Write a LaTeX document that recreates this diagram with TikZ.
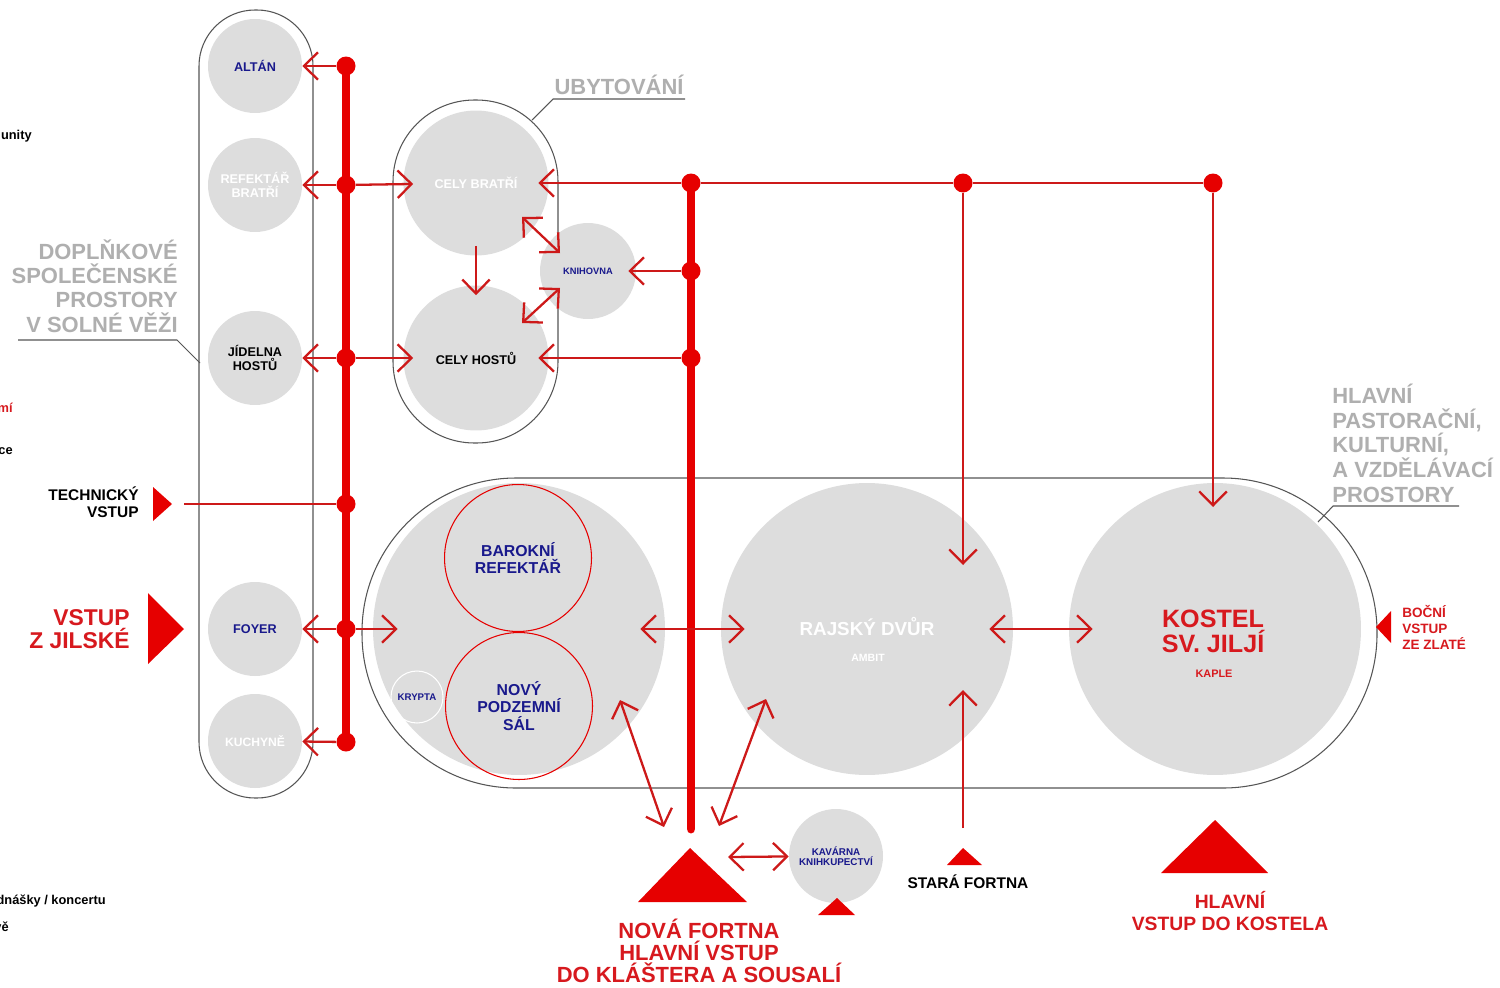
\documentclass[tikz,border=0pt]{standalone}
\usepackage{fontspec}
\setmainfont{Liberation Sans}
\usetikzlibrary{arrows.meta}
\definecolor{thickred}{RGB}{230,0,0}
\definecolor{arrred}{RGB}{205,25,25}
\definecolor{txtred}{RGB}{215,25,30}
\definecolor{roomgrey}{RGB}{221,221,221}
\definecolor{lblgrey}{RGB}{175,175,175}
\definecolor{navy}{RGB}{25,25,140}
\definecolor{outl}{RGB}{85,85,85}
\newcommand\fsz[2]{\fontsize{#1}{#2}\selectfont\bfseries}
\begin{document}
\begin{tikzpicture}[x=0.02cm,y=-0.02cm,
  room/.style={circle, fill=roomgrey, draw=none, inner sep=0pt, align=center, font=\fsz{7.2pt}{7.6pt}},
  roomL/.style={room, minimum size=5.84cm},
  roomM/.style={room, minimum size=2.9cm},
  roomS/.style={room, minimum size=1.88cm},
  redring/.style={circle, draw=thickred, line width=0.6pt, minimum size=2.94cm, inner sep=0pt, text=navy, align=center, font=\fsz{9pt}{9.6pt}},
  jdot/.style={circle, fill=thickred, inner sep=0pt, minimum size=0.38cm},
  spine/.style={draw=thickred, line width=5.1pt, line cap=round},
  thinred/.style={draw=arrred, line width=1.3pt},
  arr/.style={thinred, -{Straight Barb[length=0.28cm,width=0.55cm]}},
  darr/.style={thinred, {Straight Barb[length=0.28cm,width=0.55cm]}-{Straight Barb[length=0.28cm,width=0.55cm]}},
  pill/.style={draw=outl, line width=0.6pt, fill=white},
  leader/.style={draw=outl, line width=0.6pt},
  lbl/.style={inner sep=0pt},
  greylbl/.style={lbl, text=lblgrey, font=\fsz{12.5pt}{13.8pt}},
]
\useasboundingbox (0,0) rectangle (1500,987);
\fill[white] (0,0) rectangle (1500,987);

% pills
\draw[pill, rounded corners=1.12cm] (199,10) rectangle (313,798);
\draw[pill, rounded corners=1.63cm] (393,100) rectangle (558,443);
\draw[pill, rounded corners=3.08cm] (362,478) rectangle (1377,788);

% rooms, left column
\node[roomS, text=navy] (altan) at (255,66) {ALTÁN};
\node[roomS, text=white] (refb) at (255,185) {REFEKTÁŘ\\BRATŘÍ};
\node[roomS, text=black] (jidelna) at (255,358) {JÍDELNA\\HOSTŮ};
\node[roomS, text=navy] (foyer) at (255,629) {FOYER};
\node[roomS, text=white, font=\fsz{6.9pt}{7.4pt}] (kuchyne) at (255,741) {KUCHYNĚ};

% accommodation
\node[roomM, text=white] (celyb) at (476,183) {CELY BRATŘÍ};
\node[roomM, text=black] (celyh) at (476,358) {CELY HOSTŮ};
\node[roomS, minimum size=1.92cm, text=navy, font=\fsz{5.3pt}{6pt}] (knih) at (588,271) {KNIHOVNA};

% main halls
\node[roomL] (sal) at (519,629) {};
\node[redring] (barok) at (518,558) {BAROKNÍ\\REFEKTÁŘ};
\node[redring, font=\fsz{9pt}{10.2pt}] (novy) at (519,706) {NOVÝ\\PODZEMNÍ\\SÁL};
\node[circle, draw=white, line width=0.6pt, minimum size=1.04cm, inner sep=0pt, text=navy, font=\fsz{5.5pt}{6pt}] (krypta) at (417,697) {KRYPTA};
\node[roomL] (rajsky) at (867,629) {};
\node[roomL] (kostel) at (1215,629) {};
\node[roomS, text=navy, font=\fsz{5.6pt}{5.8pt}] (kavarna) at (836,856) {KAVÁRNA\\KNIHKUPECTVÍ};

\node[lbl, anchor=base, text=white, font=\fsz{10.7pt}{12pt}] (rajt) at (867,635) {RAJSKÝ DVŮR};
\node[lbl, anchor=base, text=white, font=\fsz{6pt}{7pt}] (ambit) at (868,661) {AMBIT};
\node[lbl, anchor=base, align=center, text=txtred, font=\fsz{14.3pt}{14.2pt}] (kostelt) at (1213,652) {KOSTEL\\SV. JILJÍ};
\node[lbl, anchor=base, text=txtred, font=\fsz{6.2pt}{7pt}] (kaple) at (1214,677) {KAPLE};

% junction dots
\node[jdot] (dA) at (346,66) {};
\node[jdot] (dR) at (346,185) {};
\node[jdot] (dJ) at (346,358) {};
\node[jdot] (dT) at (346,504) {};
\node[jdot] (dF) at (346,629) {};
\node[jdot] (dK) at (346,742) {};
\node[jdot] (dB) at (691,183) {};
\node[jdot] (dKn) at (691,271) {};
\node[jdot] (dH) at (691,358) {};
\node[jdot] (dRaj) at (963,183) {};
\node[jdot] (dKos) at (1213,183) {};
\coordinate (nfEnd) at (691,829);
\coordinate (techEnd) at (184,504);
\coordinate (sfStart) at (963,828);
\coordinate (kavStart) at (728,857);

% spines
\draw[spine] (dA.center) -- (dK.center);
\draw[spine] (dB.center) -- (nfEnd);

% connectors
\draw[arr] (dA) -- (altan);
\draw[arr] (dR) -- (refb);
\draw[arr, shorten >=-0.2cm] (dR) -- (celyb);
\draw[arr] (dJ) -- (jidelna);
\draw[arr, shorten >=-0.2cm] (dJ) -- (celyh);
\draw[arr] (dF) -- (foyer);
\draw[arr, shorten >=-0.5cm] (dF) -- (sal);
\draw[arr] (dK) -- (kuchyne);
\draw[thinred] (techEnd) -- (dT);
\draw[arr, shorten >=-0.21cm] (dB) -- (celyb);
\draw[thinred] (dB) -- (dRaj);
\draw[thinred] (dRaj) -- (dKos);
\draw[arr, shorten >=-0.16cm] (dKn) -- (knih);
\draw[arr, shorten >=-0.21cm] (dH) -- (celyh);
\draw[arr, shorten <=-0.2cm, shorten >=-0.2cm] (celyb) -- (celyh);
\draw[darr] ([shift={(46,34)}]celyb.center) -- ([shift={(-28,-18)}]knih.center);
\draw[darr] ([shift={(46,-35)}]celyh.center) -- ([shift={(-28,17)}]knih.center);
\draw[darr] ([shift={(-25,0)}]sal.east) -- ([shift={(24,0)}]rajsky.west);
\draw[darr] ([shift={(-24,0)}]rajsky.east) -- ([shift={(24,0)}]kostel.west);
\draw[arr] (dRaj) -- ([shift={(96,-64)}]rajsky.center);
\draw[arr] (dKos) -- ([shift={(-2,-122)}]kostel.center);
\draw[arr] (sfStart) -- ([shift={(96,61)}]rajsky.center);
\draw[darr] ([shift={(101,71)}]sal.center) -- ([shift={(-27,-2)}]nfEnd);
\draw[darr] ([shift={(-101,70)}]rajsky.center) -- ([shift={(28,-3)}]nfEnd);
\draw[darr] (kavStart) -- (kavarna);

% entrance triangles
\fill[thickred] (153,487) -- (172,504) -- (153,521) -- cycle;
\fill[thickred] (148,593) -- (184,629) -- (148,664) -- cycle;
\fill[thickred] (638,902) -- (690,848) -- (747,902) -- cycle;
\fill[thickred] (818,915) -- (837,898) -- (855,915) -- cycle;
\fill[thickred] (947,865) -- (963,848) -- (982,865) -- cycle;
\fill[thickred] (1161,873) -- (1215,820) -- (1268,873) -- cycle;
\fill[thickred] (1391,611) -- (1376,627) -- (1391,643) -- cycle;

% grey zone labels with leaders
\node[greylbl, anchor=base east, align=right] (doplnk) at (178,332) {DOPLŇKOVÉ\\SPOLEČENSKÉ\\PROSTORY\\V SOLNÉ VĚŽI};
\draw[leader] (18,340) -- (177,340) -- (200,363);
\node[greylbl, anchor=base] (ubyt) at (619,94) {UBYTOVÁNÍ};
\draw[leader] (532,120) -- (553,99) -- (685,99);
\node[greylbl, anchor=base west, align=left, font=\fsz{12.5pt}{14pt}] (hlavpast) at (1332,502) {HLAVNÍ\\PASTORAČNÍ,\\KULTURNÍ,\\A VZDĚLÁVACÍ\\PROSTORY};
\draw[leader] (1318,522) -- (1333,506) -- (1459,506);

% entrance labels
\node[lbl, anchor=base east, align=right, font=\fsz{8.8pt}{9.6pt}] (techt) at (139,517) {TECHNICKÝ\\VSTUP};
\node[lbl, anchor=base east, align=right, text=txtred, font=\fsz{13pt}{13pt}] (jilt) at (130,648) {VSTUP\\Z JILSKÉ};
\node[lbl, anchor=base west, align=left, text=txtred, font=\fsz{7.7pt}{8.9pt}] (bocni) at (1402,649) {BOČNÍ\\VSTUP\\ZE ZLATÉ};
\node[lbl, anchor=base, align=center, text=txtred, font=\fsz{12.5pt}{12.5pt}] (novaf) at (699,982) {NOVÁ FORTNA\\HLAVNÍ VSTUP\\DO KLÁŠTERA A SOUSALÍ};
\node[lbl, anchor=base, font=\fsz{8.8pt}{9pt}] (staraf) at (968,888) {STARÁ FORTNA};
\node[lbl, anchor=base, align=center, text=txtred, font=\fsz{11pt}{12.5pt}] (hlavvst) at (1230,930) {HLAVNÍ\\VSTUP DO KOSTELA};

% cut-off legend fragments at the left edge
\node[lbl, anchor=base east, font=\fsz{7.3pt}{8pt}] (l1) at (32,139) {unity};
\node[lbl, anchor=base east, text=txtred, font=\fsz{7.3pt}{8pt}] (l2) at (13,412) {mí};
\node[lbl, anchor=base east, font=\fsz{7.3pt}{8pt}] (l3) at (13,454) {ce};
\node[lbl, anchor=base east, font=\fsz{7.3pt}{8pt}] (l4) at (106,904) {dnášky / koncertu};
\node[lbl, anchor=base east, font=\fsz{7.3pt}{8pt}] (l5) at (9,931) {vě};
\end{tikzpicture}
\end{document}
